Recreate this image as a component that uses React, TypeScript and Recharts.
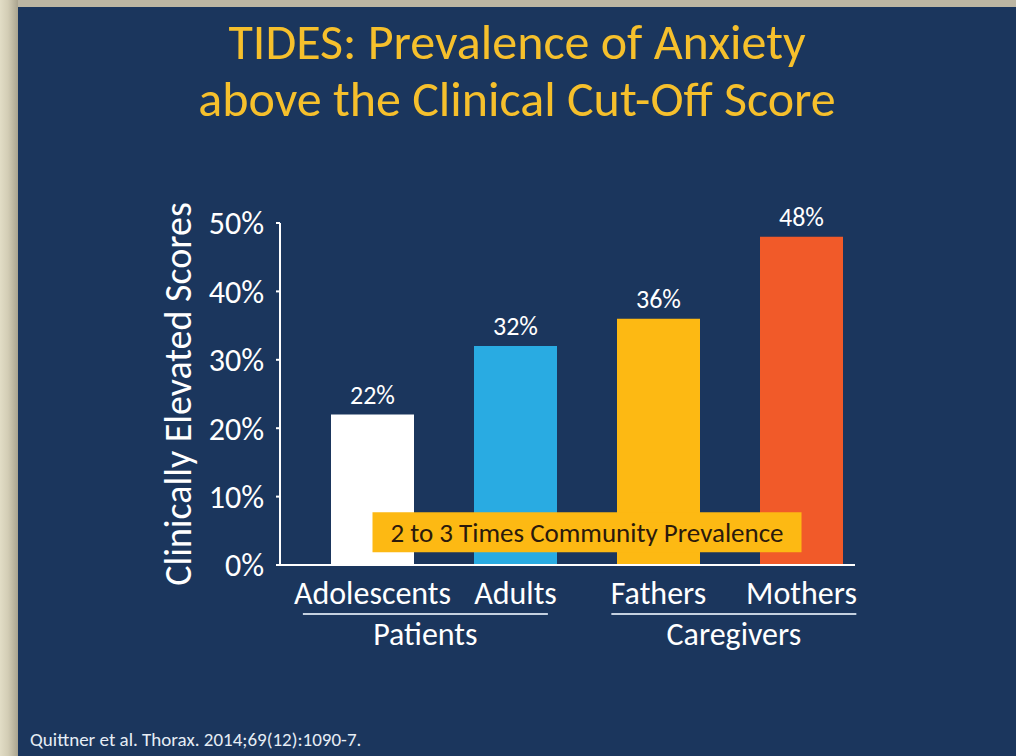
import { Bar, BarChart, Cell, LabelList, ReferenceLine, XAxis, YAxis } from "recharts";

const CATEGORIES = ["Adolescents", "Adults", "Fathers", "Mothers"];
const GROUPS = ["Patients", "Patients", "Caregivers", "Caregivers"];
const VALUES = [22, 32, 36, 48];
const BAR_COLORS = ["#ffffff", "#29abe2", "#fdb913", "#f15a29"];
const Y_TICKS = [0, 10, 20, 30, 40, 50];

const TITLE = ["TIDES: Prevalence of Anxiety", "above the Clinical Cut-Off Score"];
const Y_LABEL = "Clinically Elevated Scores";
const NOTE = "2 to 3 Times Community Prevalence";
const NOTE_FROM = "Adolescents";
const NOTE_TO = "Mothers";
const NOTE_LEVEL = 4.8;
const SOURCE = "Quittner et al. Thorax. 2014;69(12):1090-7.";

const FONT = "Carlito, Calibri, Lato, sans-serif";
const NAVY = "#1b365d";
const TICK_SIZE = 32;
const GROUP_RULE = 245;

const data = CATEGORIES.map((name, i) => ({ name, group: GROUPS[i], value: VALUES[i] }));

let ctx: CanvasRenderingContext2D | null = null;
function textWidth(s: string, size: number) {
  if (!ctx) ctx = document.createElement("canvas").getContext("2d");
  if (!ctx) return s.length * size * 0.5;
  ctx.font = `${size}px ${FONT}`;
  return ctx.measureText(s).width;
}

// category label, plus the group rule + name under the last member of each group
function CategoryTick(props: any) {
  const { x, y, payload, index } = props;
  const label = String(payload.value);
  const group = GROUPS[index];
  const isLast = index === GROUPS.length - 1 || GROUPS[index + 1] !== group;
  const band = (payload.offset ?? 71.5) * 2;

  let groupEls = null;
  if (isLast) {
    const firstIdx = GROUPS.indexOf(group);
    const firstX = x - band * (index - firstIdx);
    const left = firstX - textWidth(CATEGORIES[firstIdx], TICK_SIZE) / 2;
    const right = x + textWidth(label, TICK_SIZE) / 2;
    const mid = (left + right) / 2;
    groupEls = (
      <g>
        <line
          x1={mid - GROUP_RULE / 2}
          x2={mid + GROUP_RULE / 2}
          y1={y + 49}
          y2={y + 49}
          stroke="#c5d1e0"
          strokeWidth={2}
        />
        <text x={mid} y={y + 80} textAnchor="middle" fill="#ffffff" fontSize={TICK_SIZE} fontFamily={FONT}>
          {group}
        </text>
      </g>
    );
  }

  return (
    <g>
      <text x={x} y={y + 39} textAnchor="middle" fill="#ffffff" fontSize={TICK_SIZE} fontFamily={FONT}>
        {label}
      </text>
      {groupEls}
    </g>
  );
}

export default function App() {
  return (
    <div
      style={{
        position: "absolute",
        left: 0,
        top: 0,
        width: 1016,
        height: 756,
        overflow: "hidden",
        background: "linear-gradient(90deg, #e2ddc6 0px, #d3cdb5 8px, #aaa48f 18px)",
        fontFamily: FONT,
      }}
    >
      <div style={{ position: "absolute", left: 18, right: 0, top: 0, height: 7, background: "#bcb6a3" }} />
      <div style={{ position: "absolute", left: 18, right: 0, top: 7, bottom: 0, background: NAVY }} />

      <div
        style={{
          position: "absolute",
          left: 18,
          right: 0,
          top: 13,
          textAlign: "center",
          color: "#f6c02c",
          fontSize: 50,
          lineHeight: "57px",
        }}
      >
        {TITLE.map((t) => (
          <div key={t}>{t}</div>
        ))}
      </div>

      <div style={{ position: "absolute", left: 0, top: 0 }}>
        <BarChart
          width={1016}
          height={756}
          data={data}
          margin={{ top: 223, right: 161, bottom: 111, left: 160 }}
        >
          <XAxis
            dataKey="name"
            height={80}
            interval={0}
            padding={{ left: 21, right: -18 }}
            axisLine={{ stroke: "#ffffff", strokeWidth: 2 }}
            tickLine={false}
            tickSize={0}
            tickMargin={0}
            tick={<CategoryTick />}
          />
          <YAxis
            width={120}
            domain={[0, 50]}
            ticks={Y_TICKS}
            tickFormatter={(v) => `${v}%`}
            axisLine={{ stroke: "#ffffff", strokeWidth: 2 }}
            tickLine={{ stroke: "#ffffff", strokeWidth: 2 }}
            tickSize={4}
            tickMargin={12}
            tick={{ fill: "#ffffff", fontSize: 32, fontFamily: FONT }}
            label={{
              value: Y_LABEL,
              angle: -90,
              position: "insideLeft",
              offset: 18,
              style: { textAnchor: "middle", fill: "#ffffff", fontSize: 38, fontFamily: FONT },
            }}
          />
          <Bar dataKey="value" barSize={83} isAnimationActive={false}>
            {data.map((d, i) => (
              <Cell key={d.name} fill={BAR_COLORS[i]} />
            ))}
            <LabelList
              dataKey="value"
              position="top"
              offset={11}
              formatter={(v: any) => `${v}%`}
              fill="#ffffff"
              fontSize={26}
              fontFamily={FONT}
            />
          </Bar>
          <ReferenceLine
            segment={[
              { x: NOTE_FROM, y: NOTE_LEVEL },
              { x: NOTE_TO, y: NOTE_LEVEL },
            ]}
            stroke="#fdb913"
            strokeWidth={40}
            ifOverflow="visible"
            label={{ value: NOTE, position: "center", fill: "#2b1a0c", fontSize: 27, fontFamily: FONT }}
          />
        </BarChart>
      </div>

      <div
        style={{
          position: "absolute",
          left: 30,
          top: 729,
          color: "#e6edf5",
          fontSize: 19,
          lineHeight: "22px",
        }}
      >
        {SOURCE}
      </div>
    </div>
  );
}
